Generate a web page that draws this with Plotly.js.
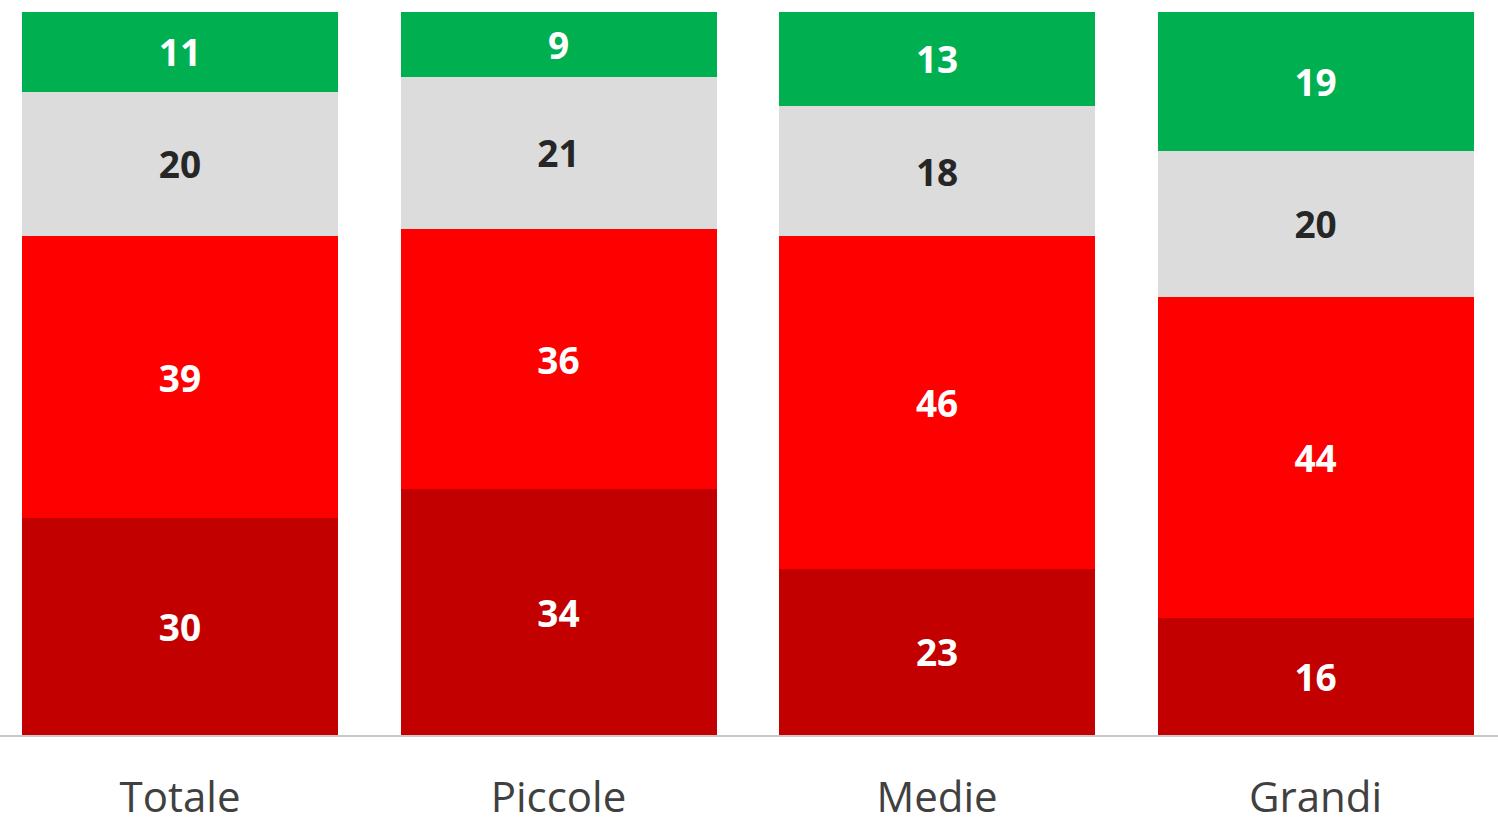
<!DOCTYPE html>
<html>
<head>
<meta charset="utf-8">
<script src="https://cdn.plot.ly/plotly-3.0.1.min.js"></script>
<style>html,body{margin:0;padding:0;background:#fff;}#chart{width:1498px;height:829px;}</style>
</head>
<body>
<div id="chart"></div>
<script>
const categories = ["Totale", "Piccole", "Medie", "Grandi"];
const darkRed = [30, 34, 23, 16];
const red = [39, 36, 46, 44];
const gray = [20, 21, 18, 20];
const green = [11, 9, 13, 19];

const seriesList = [
  {name: "s1", values: darkRed, color: "#c20000", textColor: "#ffffff"},
  {name: "s2", values: red, color: "#ff0000", textColor: "#ffffff"},
  {name: "s3", values: gray, color: "#dcdcdc", textColor: "#262626"},
  {name: "s4", values: green, color: "#00b050", textColor: "#ffffff"}
];

const traces = seriesList.map(s => ({
  type: "bar",
  name: s.name,
  x: categories,
  y: s.values,
  text: s.values.map(String),
  texttemplate: "%{text}",
  textposition: "inside",
  insidetextanchor: "middle",
  textangle: 0,
  constraintext: "none",
  insidetextfont: {family: "Open Sans, sans-serif", size: 37, color: s.textColor, weight: 700},
  marker: {color: s.color, line: {width: 0}},
  hoverinfo: "skip"
}));

const layout = {
  width: 1498,
  height: 829,
  margin: {l: 0, r: 0, t: 12, b: 94},
  barmode: "stack",
  barnorm: "percent",
  bargap: 0.165,
  showlegend: false,
  paper_bgcolor: "#ffffff",
  plot_bgcolor: "#ffffff",
  xaxis: {
    type: "category",
    range: [-0.4756, 3.482],
    showline: true,
    linecolor: "#c8c8c8",
    linewidth: 2,
    showgrid: false,
    zeroline: false,
    ticks: "",
    ticklabelstandoff: 25,
    tickfont: {family: "Open Sans, sans-serif", size: 42, color: "#404040"},
    fixedrange: true
  },
  yaxis: {
    range: [0, 100],
    showgrid: false,
    zeroline: false,
    showline: false,
    showticklabels: false,
    ticks: "",
    fixedrange: true
  }
};

Plotly.newPlot("chart", traces, layout, {displayModeBar: false, staticPlot: true});
</script>
</body>
</html>
